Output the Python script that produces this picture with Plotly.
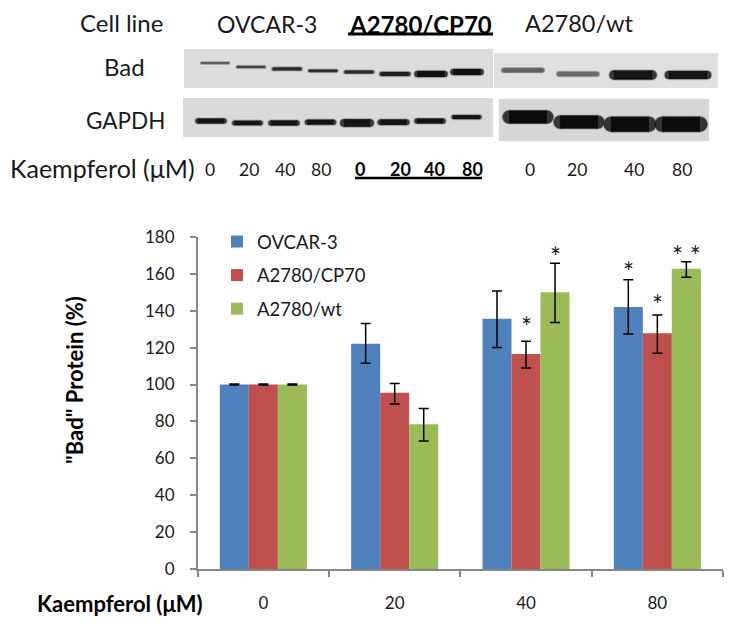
import plotly.graph_objects as go

# ---- bar chart data ----
doses = ["0", "20", "40", "80"]
ovcar = [100, 122, 135.6, 142]
cp70 = [100, 95.5, 116.5, 127.7]
wt = [100, 78.5, 150, 162.7]
ovcar_up = [0.3, 11, 15, 14.7]
ovcar_dn = [0.3, 10.5, 15.6, 14.7]
cp70_up = [0.3, 5, 6.9, 9.9]
cp70_dn = [0.3, 6, 7.5, 10.8]
wt_up = [0.3, 8.5, 15.6, 3.8]
wt_dn = [0.3, 9, 16.4, 4.7]
series_names = ["OVCAR-3", "A2780/CP70", "A2780/wt"]
yticks = [0, 20, 40, 60, 80, 100, 120, 140, 160, 180]
# significance marks: (series index, dose index, height, text)
star_series = [1, 2, 0, 1, 2]
star_dose = [2, 2, 3, 3, 3]
star_height = [131.3, 168.8, 160.8, 143.3, 169.3]
star_text = ["*", "*", "*", "*", "* *"]

# ---- blot data (band position as % of panel height from top, thickness, darkness) ----
bad_left_pos = [36, 46, 51, 56, 59, 64, 64, 59]
bad_left_thick = [1.5, 2, 3, 2.5, 3, 4, 6, 6]
bad_left_dark = ["#555555", "#444444", "#2a2a2a", "#2a2a2a", "#2a2a2a", "#1c1c1c", "#111111", "#111111"]
bad_right_pos = [49, 60, 63, 63]
bad_right_thick = [4, 4, 9, 8]
bad_right_dark = ["#606060", "#6a6a6a", "#141414", "#141414"]
gapdh_left_pos = [59, 64, 64, 62, 64, 62, 59, 49]
gapdh_left_thick = [5, 4.5, 5, 5, 7.5, 5.5, 5, 4]
gapdh_left_dark = ["#141414"] * 8
gapdh_right_pos = [43, 55, 60, 60]
gapdh_right_thick = [13, 13, 15, 15]
gapdh_right_dark = ["#0c0c0c"] * 4
lane_labels = ["0", "20", "40", "80"]

W, H = 733, 626
BLUE, RED, GREEN = "#4F81BD", "#C0504D", "#9BBB59"
AXC = "#868686"
FONT = "Lato"
TXT = "#1a1a1a"


def fx(p):
    return p / W


def fy(p):
    return 1 - p / H


fig = go.Figure()
for name, vals, up, dn, col in zip(
    series_names,
    [ovcar, cp70, wt],
    [ovcar_up, cp70_up, wt_up],
    [ovcar_dn, cp70_dn, wt_dn],
    [BLUE, RED, GREEN],
):
    fig.add_trace(go.Bar(
        x=doses, y=vals, name=name, legendgroup=name, marker_color=col, marker_line_width=0,
        error_y=dict(type="data", symmetric=False, array=up, arrayminus=dn,
                     color="black", thickness=1.5, width=5),
    ))


def blot(axis_n, pos, thick, dark, halfwidth):
    # soft halo layers first, then the dark cores so a halo never covers a neighbouring core
    for extra, col in ((2.4, "#b8b8b8"), (1, "#7a7a7a"), (0, None)):
        for i, (p, t, d) in enumerate(zip(pos, thick, dark)):
            xs = [i - halfwidth, i, i + halfwidth]
            size = t + extra
            c = col or d
            fig.add_trace(go.Scatter(
                x=xs, y=[p, p, p], mode="lines+markers",
                line=dict(color=c, width=size),
                marker=dict(color=c, size=[size, 0, size], line_width=0),
                showlegend=False, hoverinfo="skip",
                xaxis=f"x{axis_n}", yaxis=f"y{axis_n}",
            ))


panels = [
    # axis n, px left, right, top, bottom, first lane px, lane step px, fill
    (2, 184, 493, 49, 88, 215, 36, "#dcdcdc"),
    (3, 494, 718, 53, 88, 523, 55, "#e0e0e0"),
    (4, 183, 493, 98, 137, 211, 36.5, "#dadada"),
    (5, 499, 709, 99, 141, 528, 51, "#d6d6d6"),
]
blot(2, bad_left_pos, bad_left_thick, bad_left_dark, 0.38)
blot(3, bad_right_pos, bad_right_thick, bad_right_dark, 0.35)
blot(4, gapdh_left_pos, gapdh_left_thick, gapdh_left_dark, 0.36)
blot(5, gapdh_right_pos, gapdh_right_thick, gapdh_right_dark, 0.37)

layout_axes = {}
shapes = []
for n, l, r, t, b, first, step, fill in panels:
    layout_axes[f"xaxis{n}"] = dict(
        domain=[fx(l), fx(r)], range=[(l - first) / step, (r - first) / step],
        visible=False, anchor=f"y{n}", fixedrange=True)
    layout_axes[f"yaxis{n}"] = dict(
        domain=[fy(b), fy(t)], range=[100, 0], visible=False, anchor=f"x{n}", fixedrange=True)
    shapes.append(dict(type="rect", xref="paper", yref="paper", x0=fx(l), x1=fx(r),
                       y0=fy(b), y1=fy(t), fillcolor=fill, line_width=0, layer="below"))

# heading underlines
for x0, x1, y, w in ((348, 493, 34, 3), (355, 482, 178, 2.5)):
    shapes.append(dict(type="line", xref="paper", yref="paper", x0=fx(x0), x1=fx(x1),
                       y0=fy(y), y1=fy(y), line=dict(color="black", width=w)))

ann = []


def label(text, x, y, size=20, bold=False, angle=0):
    ann.append(dict(text=f"<b>{text}</b>" if bold else text, x=fx(x), y=fy(y),
                    xref="paper", yref="paper", showarrow=False, xanchor="center",
                    yanchor="middle", textangle=angle,
                    font=dict(family=FONT, size=size, color=TXT if not bold else "black")))


label("Cell line", 121, 22, 24)
label("OVCAR-3", 267, 24, 23)
label("A2780/CP70", 420, 24, 24, True)
label("A2780/wt", 579, 23, 23.5)
label("Bad", 124, 66, 24)
label("GAPDH", 125, 120, 22.5)
label("Kaempferol (μM)", 102, 168, 25)
for txt, x in zip(lane_labels, (210, 249, 285, 321)):
    label(txt, x, 169, 17.5)
for txt, x in zip(lane_labels, (360, 400, 435, 472)):
    label(txt, x, 169, 18, True)
for txt, x in zip(lane_labels, (530, 577, 634, 682)):
    label(txt, x, 169, 17.5)
label("Kaempferol (μM)", 120, 603, 22, True)
label('"Bad" Protein (%)', 74, 380, 22, True, -90)

offset = 0.221
for s, d, h, t in zip(star_series, star_dose, star_height, star_text):
    ann.append(dict(text=t, x=d + (s - 1) * offset, y=h, xref="x", yref="y", showarrow=False,
                    xanchor="center", yanchor="middle",
                    font=dict(family=FONT, size=26, color=TXT)))

fig.update_layout(
    width=W, height=H, margin=dict(l=0, r=0, t=0, b=0, autoexpand=False), autosize=False,
    paper_bgcolor="white", plot_bgcolor="white",
    font=dict(family=FONT, size=17, color=TXT),
    barmode="group", bargap=0.337, bargroupgap=0,
    legend=dict(x=fx(217), y=fy(223), xanchor="left", yanchor="top",
                bgcolor="rgba(0,0,0,0)", tracegroupgap=6.5, itemwidth=30,
                font=dict(family=FONT, size=18.5, color=TXT), itemclick=False, itemdoubleclick=False),
    xaxis=dict(domain=[fx(197.7), fx(723)], type="category", categoryorder="array",
               categoryarray=doses, range=[-0.5, 3.5], showline=True, linecolor=AXC, linewidth=1.5,
               ticks="outside", tickson="boundaries", ticklen=6, tickcolor=AXC, tickwidth=1.5,
               showgrid=False, zeroline=False, ticklabelstandoff=18, fixedrange=True),
    yaxis=dict(domain=[fy(569.3), fy(236.7)], range=[0, 180], tickvals=yticks, showline=True,
               linecolor=AXC, linewidth=1.5, ticks="outside", ticklen=6, tickcolor=AXC,
               tickwidth=1.5, showgrid=False, zeroline=False, ticklabelstandoff=12, fixedrange=True),
    shapes=shapes, annotations=ann, **layout_axes,
)

fig.write_html("out.html", post_script="document.body.style.margin='0';document.documentElement.style.overflow='hidden';",
               config={"displayModeBar": False})
